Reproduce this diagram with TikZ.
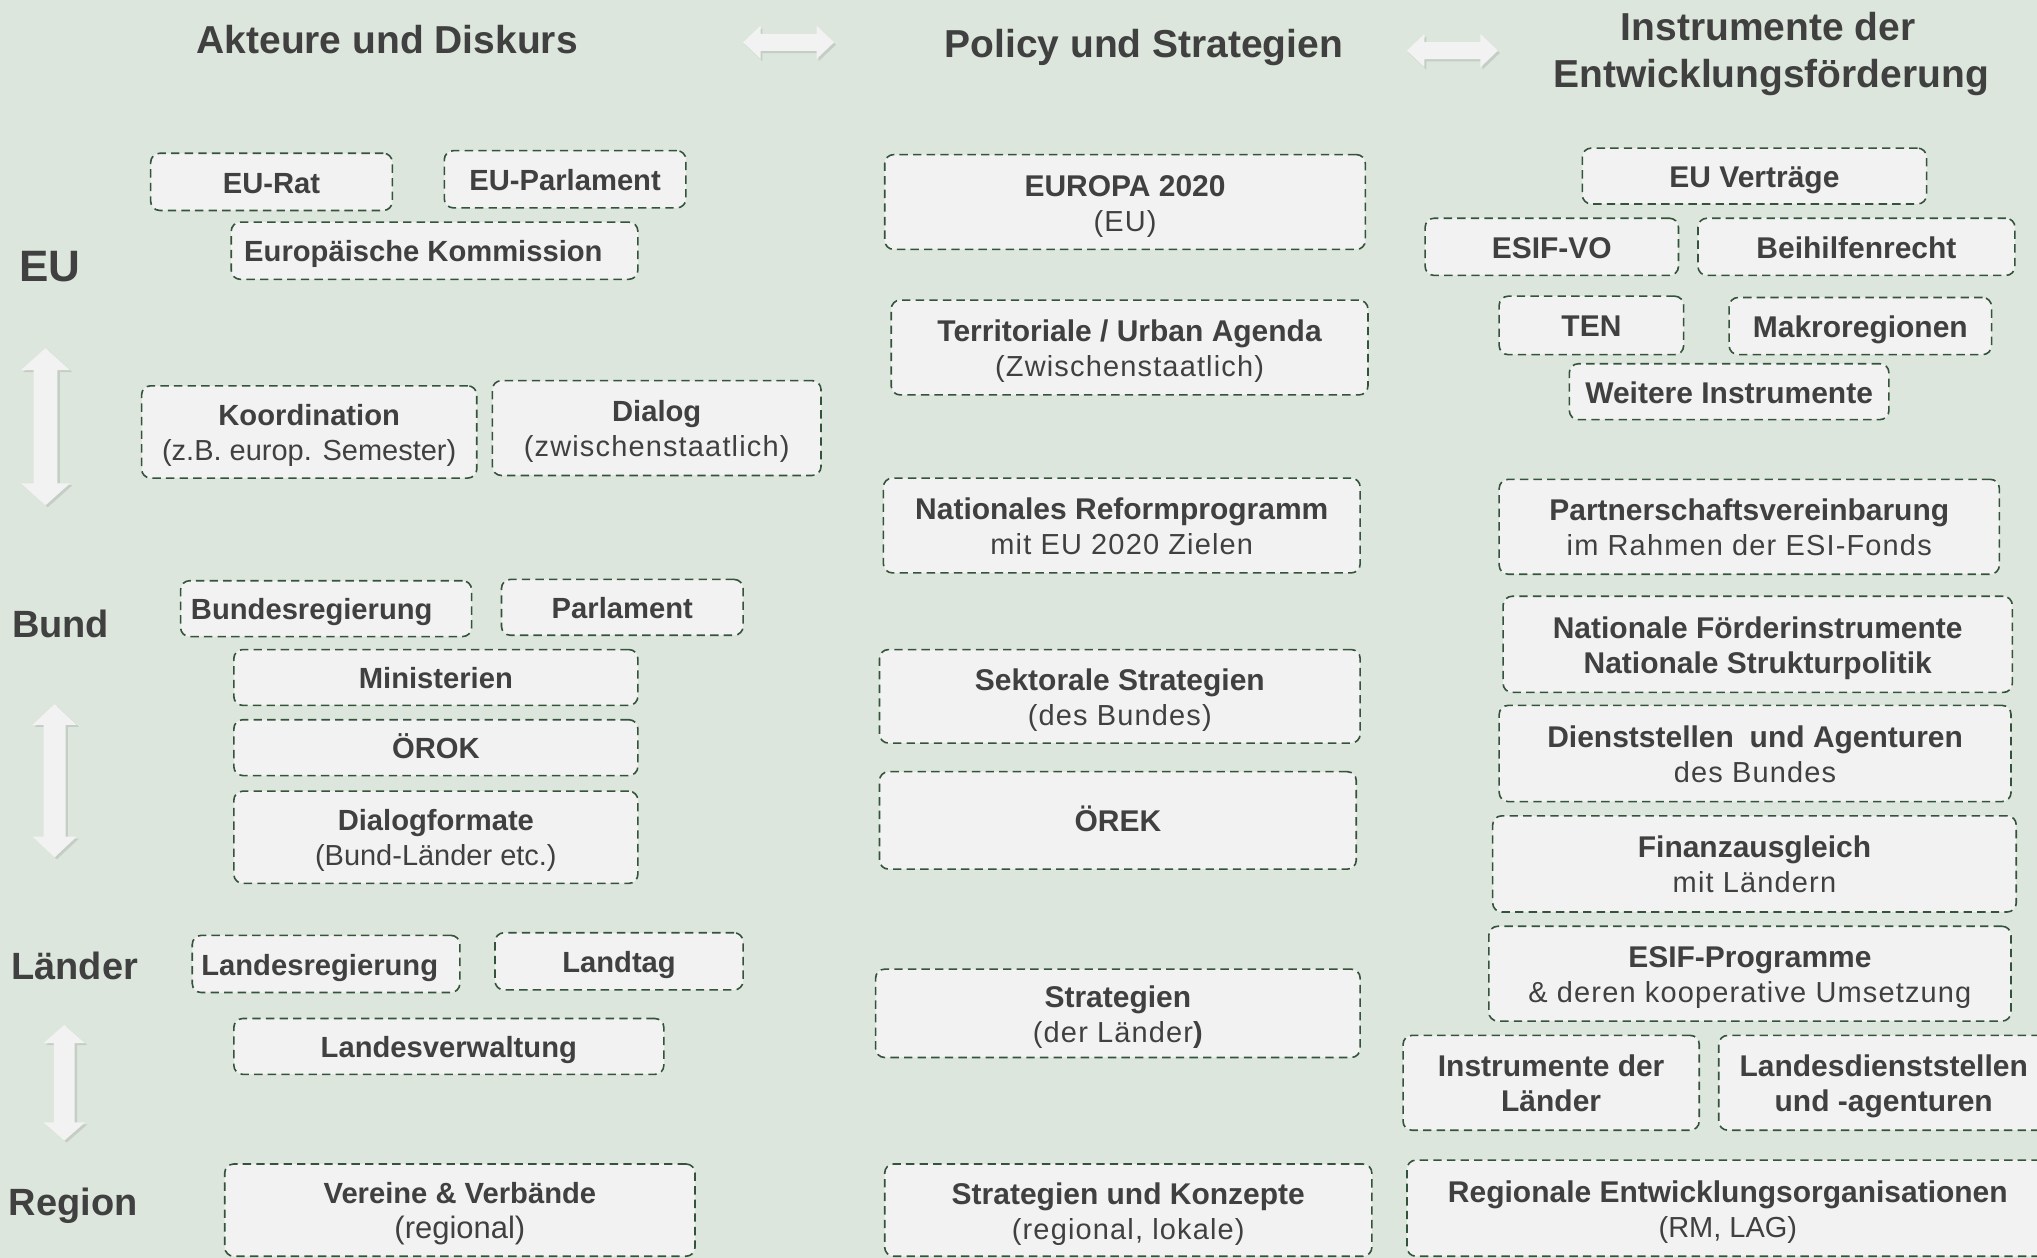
\documentclass[tikz,border=0pt]{standalone}
\usepackage{fontspec}
\setmainfont{Liberation Sans}
\newfontfamily\regsp[LetterSpace=4]{Liberation Sans}
\definecolor{bg}{HTML}{DCE6DC}
\definecolor{boxfill}{HTML}{F2F2F2}
\definecolor{boxline}{HTML}{33533A}
\definecolor{txt}{HTML}{404040}
\definecolor{arrfill}{HTML}{F2F2F2}
\newcommand\sub{\regsp\mdseries\fontsize{14.5}{17.5}\selectfont}
\newcommand\subn{\mdseries\fontsize{14.5}{17.5}\selectfont}
\newcommand\strutA{\rule{0pt}{0.98em}}
\newcommand\strutB{\rule[-0.212em]{0pt}{0pt}}
\tikzset{
  bx/.style={draw=boxline, fill=boxfill, line width=0.8pt,
    dash pattern=on 4.2pt off 2.6pt, rounded corners=4.5pt, align=center,
    text=txt, font=\bfseries\fontsize{15}{17.5}\selectfont, inner sep=0pt},
  bxleft/.style={font=\bfseries\fontsize{14.6}{17.5}\selectfont},
  ttl/.style={text=txt, font=\bfseries\fontsize{19.5}{23.7}\selectfont, inner sep=0pt, anchor=base},
  lvl/.style={text=txt, font=\bfseries\fontsize{19}{22}\selectfont, inner sep=0pt, anchor=base west},
  arrshadow/.style={fill=black, opacity=0.10},
  arrbody/.style={fill=arrfill},
}
% box: [style] name x1 y1 x2 y2 text
\newcommand\bxn[7][]{%
  \pgfmathsetmacro\bw{(#5-#3)*0.65}\pgfmathsetmacro\bh{(#6-#4)*0.65}%
  \node[bx, minimum width=\bw pt, minimum height=\bh pt, #1] (#2) at ({(#3+#5)/2},{(#4+#6)/2}) {\strutA#7\strutB};}
% left aligned box: name x1 y1 x2 y2 pad text
\newcommand\bxl[7]{%
  \pgfmathsetmacro\bw{(#4-#2)*0.65}\pgfmathsetmacro\bh{(#5-#3)*0.65}\pgfmathsetmacro\bp{#6*0.65}%
  \node[bx, bxleft, minimum width=\bw pt, minimum height=\bh pt] (#1) at ({(#2+#4)/2},{(#3+#5)/2}) {\makebox[\bw pt][l]{\hspace{\bp pt}\strutA#7\strutB}};}
% horizontal double arrow: x1 x2 cy hl hh sh
\newcommand\harr[6]{%
  \foreach \st/\sx/\sy in {arrshadow/1.5/1.8, arrbody/0/0}{
  \fill[\st, shift={(\sx,\sy)}] (#1,#3) -- ({#1+#4},{#3-#5}) -- ({#1+#4},{#3-#6}) -- ({#2-#4},{#3-#6})
    -- ({#2-#4},{#3-#5}) -- (#2,#3) -- ({#2-#4},{#3+#5}) -- ({#2-#4},{#3+#6})
    -- ({#1+#4},{#3+#6}) -- ({#1+#4},{#3+#5}) -- cycle;}}
% vertical double arrow: cx y1 y2 hl hw sw
\newcommand\varr[6]{%
  \foreach \st/\sx/\sy in {arrshadow/1.8/1.5, arrbody/0/0}{
  \fill[\st, shift={(\sx,\sy)}] (#1,#2) -- ({#1+#5},{#2+#4}) -- ({#1+#6},{#2+#4}) -- ({#1+#6},{#3-#4})
    -- ({#1+#5},{#3-#4}) -- (#1,#3) -- ({#1-#5},{#3-#4}) -- ({#1-#6},{#3-#4})
    -- ({#1-#6},{#2+#4}) -- ({#1-#5},{#2+#4}) -- cycle;}}
\begin{document}
\begin{tikzpicture}[x=0.65pt, y=-0.65pt]
\useasboundingbox (0,0) rectangle (1568,968);
\clip (0,0) rectangle (1568,968);
\fill[bg] (0,0) rectangle (1568,968);

% titles
\node[ttl] (t1) at (298,41) {Akteure und Diskurs};
\node[ttl] (t2) at (880.5,44.4) {Policy und Strategien};
\node[ttl] (t3a) at (1361,30.8) {Instrumente der};
\node[ttl] (t3b) at (1363.5,67.2) {Entwicklungsförderung};

% horizontal arrows
\harr{572}{642}{32.6}{13.4}{12.8}{6.5}
\harr{1083}{1153}{39}{13.4}{12.8}{6.5}

% level labels
\node[lvl, font=\bfseries\fontsize{22}{24}\selectfont] (leu) at (14.5,216.8) {EU};
\node[lvl] (lbund) at (9,491) {Bund};
\node[lvl] (llaender) at (8.5,754) {Länder};
\node[lvl] (lregion) at (6.5,936) {Region};

% vertical arrows
\varr{35}{268}{389}{17}{19}{9.2}
\varr{42}{542}{660}{16}{17}{8.5}
\varr{49.5}{789}{878}{14}{16}{8}

% left column
\bxn[bxleft]{eurat}{116}{118}{302}{162}{EU-Rat}
\bxn[bxleft]{euparl}{342}{116}{528}{160}{EU-Parlament}
\bxl{ek}{178}{171}{491}{215}{10}{Europäische Kommission}
\bxn[bxleft]{koord}{109}{297}{367}{368}{Koordination\\{\subn(z.B. europ. Semester)}}
\bxn[bxleft]{dialog}{379}{293}{632}{366}{Dialog\\{\sub(zwischenstaatlich)}}
\bxl{breg}{139}{447}{363}{490}{8}{Bundesregierung}
\bxn[bxleft]{parl}{386}{446}{572}{489}{Parlament}
\bxn[bxleft]{mini}{180}{500}{491}{543}{Ministerien}
\bxn[bxleft]{orok}{180}{554}{491}{597}{ÖROK}
\bxn[bxleft]{dform}{180}{609}{491}{680}{Dialogformate\\{\subn(Bund-Länder etc.)}}
\bxl{lreg}{148}{720}{354}{764}{7}{Landesregierung}
\bxn[bxleft]{ltag}{381}{718}{572}{762}{Landtag}
\bxn[bxleft]{lverw}{180}{784}{511}{827}{Landesverwaltung}
\bxn[bxleft]{vereine}{173}{896}{535}{967}{Vereine \& Verbände\\{\mdseries\fontsize{15.5}{17.5}\selectfont(regional)}}

% middle column
\bxn{eu2020}{681}{119}{1051}{192}{EUROPA 2020\\{\sub(EU)}}
\bxn{terr}{686}{231}{1053}{304}{Territoriale / Urban Agenda\\{\sub(Zwischenstaatlich)}}
\bxn{nrp}{680}{368}{1047}{441}{Nationales Reformprogramm\\{\sub mit EU 2020 Zielen}}
\bxn{sekt}{677}{500}{1047}{572}{Sektorale Strategien\\{\sub(des Bundes)}}
\bxn{orek}{677}{594}{1044}{669}{ÖREK}
\bxn{strat}{674}{746}{1047}{814}{Strategien\\{\sub(der Länder{\bfseries)}}}
\bxn{skonz}{681}{896}{1056}{967}{Strategien und Konzepte\\{\sub(regional, lokale)}}

% right column
\bxn{euv}{1218}{114}{1483}{157}{EU Verträge}
\bxn{esifvo}{1097}{168}{1292}{212}{ESIF-VO}
\bxn{beih}{1307}{168}{1551}{212}{Beihilfenrecht}
\bxn{ten}{1154}{228}{1296}{273}{TEN}
\bxn{makro}{1331}{229}{1533}{273}{Makroregionen}
\bxn{weitere}{1208}{280}{1454}{323}{Weitere Instrumente}
\bxn{pv}{1154}{369}{1539}{442}{Partnerschaftsvereinbarung\\{\sub im Rahmen der ESI-Fonds}}
\bxn{nfi}{1157}{459}{1549}{533}{Nationale Förderinstrumente\\Nationale Strukturpolitik}
\bxn{dienst}{1154}{543}{1548}{617}{Dienststellen\hspace{0.25em} und Agenturen\\{\sub des Bundes}}
\bxn{finanz}{1149}{628}{1552}{702}{Finanzausgleich\\{\sub mit Ländern}}
\bxn{esifp}{1146}{713}{1548}{786}{ESIF-Programme\\{\sub\& deren kooperative Umsetzung}}
\bxn{instl}{1080}{797}{1308}{870}{Instrumente der\\Länder}
\bxn{landesd}{1323}{797}{1577}{870}{Landesdienststellen\\und -agenturen}
\bxn{reo}{1083}{893}{1577}{967}{Regionale Entwicklungsorganisationen\\{\subn(RM, LAG)}}
\end{tikzpicture}
\end{document}
